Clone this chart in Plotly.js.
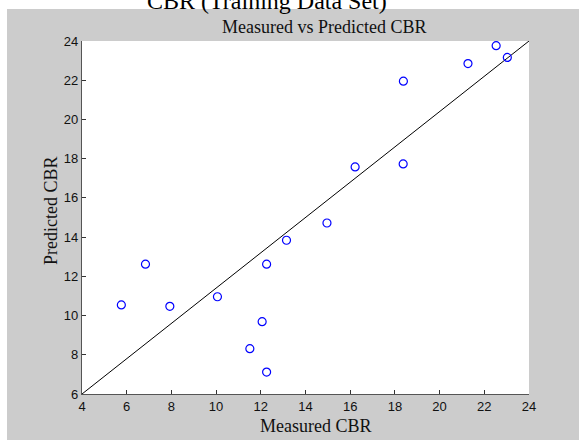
<!DOCTYPE html>
<html>
<head>
<meta charset="utf-8">
<script src="https://cdn.plot.ly/plotly-3.0.1.min.js"></script>
<style>html,body{margin:0;padding:0;background:#fff;}#chart{width:579px;height:440px;}</style>
</head>
<body>
<div id="chart"></div>
<script>
// Measured vs predicted CBR (training data set)
const measured  = [5.76, 6.84, 7.93, 10.06, 11.51, 12.06, 12.26, 12.26, 13.15, 14.96, 16.22, 18.37, 18.38, 21.27, 22.53, 23.03];
const predicted = [10.54, 12.62, 10.47, 10.96, 8.31, 9.69, 12.62, 7.12, 13.84, 14.72, 17.58, 17.73, 21.95, 22.85, 23.76, 23.16];
const fitX = [4, 24];
const fitY = [6, 24];
const tickVals = [4, 6, 8, 10, 12, 14, 16, 18, 20, 22, 24];
const yTickVals = [6, 8, 10, 12, 14, 16, 18, 20, 22, 24];

const W = 579, H = 440;
const mL = 82, mR = 50, mT = 41, mB = 46;
const pw = W - mL - mR, ph = H - mT - mB;
const px = x => (x - mL) / pw;
const py = y => (H - mB - y) / ph;

const serif = 'Liberation Serif, Times New Roman, serif';
const sans = 'Liberation Sans, Arial, sans-serif';

const traces = [
  {x: fitX, y: fitY, mode: 'lines', type: 'scatter', line: {color: '#000', width: 1}, hoverinfo: 'skip', cliponaxis: true},
  {x: measured, y: predicted, mode: 'markers', type: 'scatter',
   marker: {symbol: 'circle-open', size: 8, color: '#0000ff', line: {width: 1.2, color: '#0000ff'}}, cliponaxis: false}
];

const layout = {
  width: W, height: H,
  margin: {l: mL, r: mR, t: mT, b: mB, pad: 0},
  paper_bgcolor: '#cccccc',
  plot_bgcolor: '#ffffff',
  showlegend: false,
  xaxis: {range: [4, 24], tickvals: tickVals, ticktext: tickVals.map(String), ticks: 'inside', ticklen: 4, tickcolor: '#333',
          showline: true, linecolor: '#555', linewidth: 1.2, showgrid: false, zeroline: false, mirror: false,
          tickfont: {family: sans, size: 13, color: '#111'}, fixedrange: true},
  yaxis: {range: [6, 24], tickvals: yTickVals, ticktext: yTickVals.map(String), ticks: 'inside', ticklen: 4, tickcolor: '#333',
          showline: true, linecolor: '#555', linewidth: 1.2, showgrid: false, zeroline: false, mirror: false,
          tickfont: {family: sans, size: 13, color: '#111'}, fixedrange: true},
  shapes: [
    {type: 'rect', xref: 'paper', yref: 'paper', x0: -0.4, x1: 1.4, y0: py(9), y1: 1.3, fillcolor: '#ffffff', line: {width: 0}, layer: 'below'},
    {type: 'rect', xref: 'paper', yref: 'paper', x0: -0.4, x1: px(7), y0: -0.3, y1: 1.3, fillcolor: '#ffffff', line: {width: 0}, layer: 'below'}
  ],
  annotations: [
    {text: 'CBR (Training Data Set)', xref: 'paper', yref: 'paper', x: px(267), y: py(1), xanchor: 'center', yanchor: 'middle',
     showarrow: false, font: {family: serif, size: 24, color: '#000'}},
    {text: 'Measured vs Predicted CBR', xref: 'paper', yref: 'paper', x: px(324), y: py(27), xanchor: 'center', yanchor: 'middle',
     showarrow: false, font: {family: serif, size: 18, color: '#111'}},
    {text: 'Measured CBR', xref: 'paper', yref: 'paper', x: px(316), y: py(426), xanchor: 'center', yanchor: 'middle',
     showarrow: false, font: {family: serif, size: 18, color: '#111'}},
    {text: 'Predicted CBR', xref: 'paper', yref: 'paper', x: px(51), y: py(211), xanchor: 'center', yanchor: 'middle', textangle: -90,
     showarrow: false, font: {family: serif, size: 18, color: '#111'}}
  ]
};

Plotly.newPlot('chart', traces, layout, {displayModeBar: false, staticPlot: true});
</script>
</body>
</html>
